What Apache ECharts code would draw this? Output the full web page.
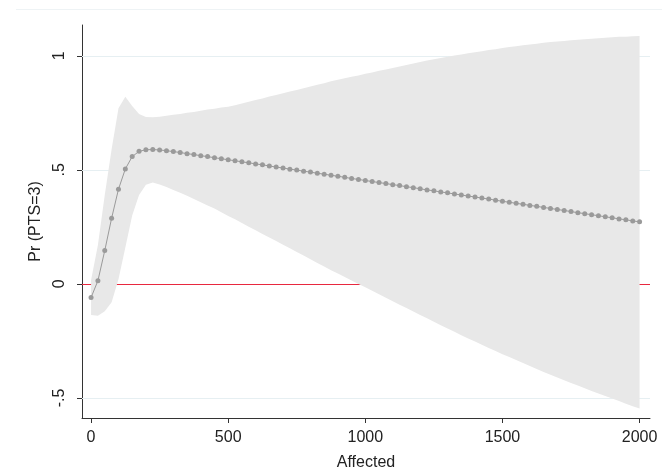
<!DOCTYPE html>
<html>
<head>
<meta charset="utf-8">
<script src="https://cdn.jsdelivr.net/npm/echarts@6/dist/echarts.min.js"></script>
<style>html,body{margin:0;padding:0;background:#fff;}#c{width:662px;height:472px;}</style>
</head>
<body>
<div id="c"></div>
<script>
// Affected values (x), step 25 from 0 to 2000
const affected = [];
for (let i = 0; i <= 80; i++) affected.push(i * 25);

// Predicted Pr(PTS=3)
const estimate = [-0.060,0.014,0.146,0.288,0.415,0.504,0.558,0.581,0.588,0.589,0.587,0.584,0.580,
0.576,0.571,0.567,0.562,0.558,0.553,0.549,0.544,0.540,0.535,0.531,0.526,0.522,0.517,0.512,0.508,
0.503,0.499,0.494,0.490,0.485,0.481,0.476,0.472,0.467,0.462,0.458,0.453,0.449,0.444,0.440,0.435,
0.431,0.426,0.422,0.417,0.412,0.408,0.403,0.399,0.394,0.390,0.385,0.381,0.376,0.372,0.367,0.362,
0.358,0.353,0.349,0.344,0.340,0.335,0.331,0.326,0.322,0.317,0.312,0.308,0.303,0.299,0.294,0.290,
0.285,0.281,0.276,0.272];

// Confidence interval bounds
const lowerCI = [-0.136,-0.140,-0.120,-0.080,0.020,0.160,0.300,0.390,0.435,0.444,0.436,0.425,0.412,
0.399,0.386,0.372,0.358,0.344,0.330,0.314,0.298,0.283,0.267,0.251,0.235,0.219,0.203,0.188,0.172,
0.156,0.140,0.124,0.108,0.092,0.076,0.060,0.045,0.030,0.015,0.000,-0.015,-0.030,-0.045,-0.061,-0.076,
-0.091,-0.106,-0.121,-0.136,-0.151,-0.166,-0.181,-0.196,-0.210,-0.225,-0.239,-0.253,-0.267,-0.281,-0.294,-0.308,
-0.321,-0.334,-0.347,-0.360,-0.373,-0.386,-0.398,-0.410,-0.423,-0.435,-0.446,-0.458,-0.470,-0.481,-0.492,-0.503,
-0.514,-0.525,-0.536,-0.546];

const upperCI = [0.016,0.170,0.390,0.590,0.770,0.820,0.780,0.745,0.732,0.731,0.733,0.737,0.741,
0.745,0.750,0.754,0.759,0.764,0.768,0.773,0.777,0.783,0.791,0.798,0.806,0.813,0.821,0.828,0.836,
0.843,0.850,0.858,0.865,0.873,0.880,0.888,0.895,0.901,0.908,0.914,0.921,0.927,0.934,0.940,0.947,
0.953,0.960,0.966,0.973,0.979,0.985,0.990,0.996,1.001,1.006,1.011,1.015,1.020,1.025,1.029,1.034,
1.038,1.042,1.046,1.050,1.053,1.057,1.060,1.063,1.065,1.068,1.070,1.073,1.075,1.077,1.079,1.081,
1.083,1.084,1.086,1.087];

const xTicks = [0, 500, 1000, 1500, 2000];
const yTicks = [-0.5, 0, 0.5, 1];
const yTickLabels = {'-0.5': '-.5', '0': '0', '0.5': '.5', '1': '1'};
const gridLineValues = [-0.5, 0.5, 1];
const refLineValue = 0;

const xMin = -33, xMax = 2038, yMin = -0.588, yMax = 1.135;

const chart = echarts.init(document.getElementById('c'), null, {renderer: 'canvas'});
const font = 'Liberation Sans, Arial, sans-serif';

const option = {
  animation: false,
  backgroundColor: '#ffffff',
  grid: {left: 82, right: 12, top: 25, bottom: 54, containLabel: false, outerBoundsMode: 'none'},
  graphic: [{
    type: 'line', shape: {x1: 16, y1: 9.5, x2: 662, y2: 9.5},
    style: {stroke: '#eef3f5', lineWidth: 1}, silent: true
  }],
  xAxis: {
    type: 'value', min: xMin, max: xMax, position: 'bottom',
    name: 'Affected', nameLocation: 'middle', nameGap: 37,
    nameTextStyle: {fontFamily: font, fontSize: 16, color: '#222'},
    axisLine: {show: true, onZero: false, lineStyle: {color: '#333', width: 1}},
    axisTick: {show: true, length: 5, customValues: xTicks, lineStyle: {color: '#333'}},
    axisLabel: {customValues: xTicks, fontFamily: font, fontSize: 16, color: '#222', margin: 12,
      formatter: v => String(v)},
    splitLine: {show: false}
  },
  yAxis: {
    type: 'value', min: yMin, max: yMax, position: 'left',
    name: 'Pr (PTS=3)', nameLocation: 'middle', nameGap: 38,
    nameTextStyle: {fontFamily: font, fontSize: 16, color: '#222'},
    axisLine: {show: true, onZero: false, lineStyle: {color: '#333', width: 1}},
    axisTick: {show: true, length: 5, customValues: yTicks, lineStyle: {color: '#333'}},
    axisLabel: {customValues: yTicks, rotate: 90, fontFamily: font, fontSize: 16, color: '#222', margin: 14,
      formatter: v => yTickLabels[String(Math.round(v * 10) / 10)] ?? String(v)},
    splitLine: {show: false}
  },
  series: [
    {
      // grid lines and the reference line at 0, drawn under the band
      type: 'custom', z: 1, silent: true, clip: true,
      data: [0],
      renderItem: function (params, api) {
        const children = [];
        gridLineValues.forEach(v => {
          const a = api.coord([xMin, v]), b = api.coord([xMax, v]);
          children.push({type: 'line', z2: 0, shape: {x1: a[0], y1: Math.round(a[1]) + 0.5, x2: b[0], y2: Math.round(b[1]) + 0.5},
            style: {stroke: '#e6eff2', lineWidth: 1}});
        });
        const a = api.coord([xMin, refLineValue]), b = api.coord([xMax, refLineValue]);
        children.push({type: 'line', z2: 0, shape: {x1: a[0], y1: Math.round(a[1]) + 0.5, x2: b[0], y2: Math.round(b[1]) + 0.5},
          style: {stroke: '#e8283f', lineWidth: 1}});
        return {type: 'group', children: children};
      }
    },
    {
      // confidence band
      type: 'custom', z: 2, silent: true, clip: true,
      data: [0],
      renderItem: function (params, api) {
        const pts = [];
        for (let i = 0; i < affected.length; i++) pts.push(api.coord([affected[i], upperCI[i]]));
        for (let i = affected.length - 1; i >= 0; i--) pts.push(api.coord([affected[i], lowerCI[i]]));
        return {type: 'polygon', z2: 5, shape: {points: pts}, style: {fill: '#e8e8e8', stroke: null}};
      }
    },
    {
      type: 'line', z: 3, silent: true,
      data: affected.map((x, i) => [x, estimate[i]]),
      symbol: 'circle', symbolSize: 5, showSymbol: true,
      lineStyle: {color: '#9a9a9a', width: 1},
      itemStyle: {color: '#9a9a9a', borderWidth: 0}
    }
  ]
};
chart.setOption(option);
</script>
</body>
</html>
